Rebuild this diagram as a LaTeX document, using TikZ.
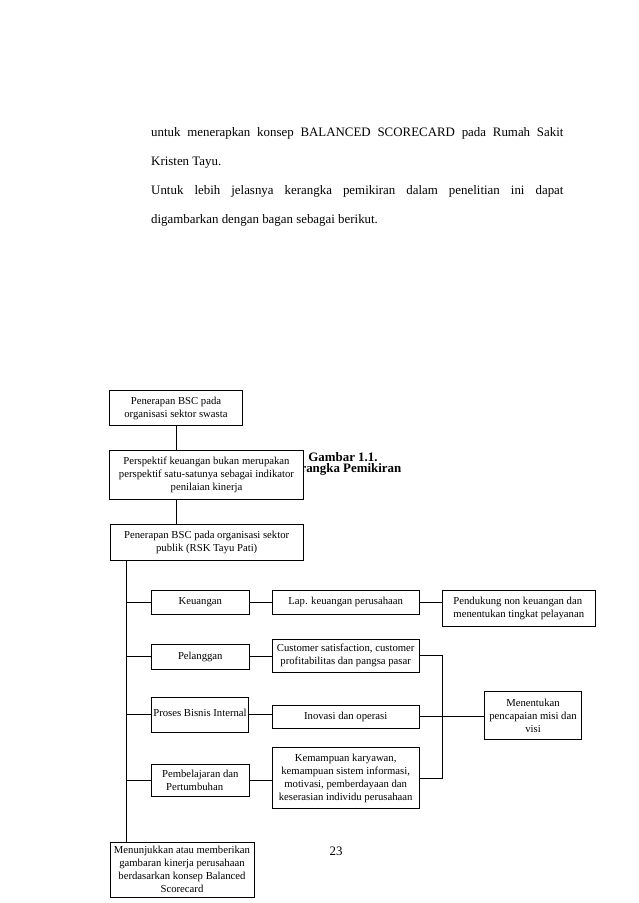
\documentclass[tikz,border=0pt]{standalone}
\usepackage{fontspec}
\setmainfont{Liberation Serif}
\usetikzlibrary{calc}
\newcommand{\bodyfont}{\fontsize{12.9}{15}\selectfont}
\newcommand{\boxfont}{\fontsize{10.7}{13}\selectfont}
\begin{document}
\begin{tikzpicture}[x=1pt,y=-1pt,
  bx/.style={draw, line width=0.8pt, fill=white, inner sep=0pt, align=center, font=\boxfont},
  ln/.style={line width=0.8pt},
  body/.style={anchor=base west, inner sep=0pt, font=\bodyfont}]
\useasboundingbox[fill=white] (0,0) rectangle (638,903);
% body text
\node[body] (t1) at (151,136) {\makebox[412.3pt][s]{untuk menerapkan konsep BALANCED SCORECARD pada Rumah Sakit}};
\node[body] (t2) at (151,165.3) {Kristen Tayu.};
\node[body] (t3) at (151,194.6) {\makebox[412.3pt][s]{Untuk lebih jelasnya kerangka pemikiran dalam penelitian ini dapat}};
\node[body] (t4) at (151,223.9) {digambarkan dengan bagan sebagai berikut.};
% caption (partly hidden behind box 2)
\node[font=\bodyfont\bfseries, inner sep=0pt] (cap1) at (343,457) {Gambar 1.1.};
\node[font=\bodyfont\bfseries, inner sep=0pt] (cap2) at (343,469.5) {Kerangka Pemikiran};
% boxes
\node[bx, minimum width=133.4pt, minimum height=35pt] (b1) at (176,408.2) {Penerapan BSC pada\\organisasi sektor swasta};
\node[bx, minimum width=194.4pt, minimum height=48.7pt] (b2) at (206.5,474.7) {Perspektif keuangan bukan merupakan\\perspektif satu-satunya sebagai indikator\\penilaian kinerja};
\node[bx, minimum width=193.5pt, minimum height=36pt] (b3) at (206.7,542) {Penerapan BSC pada organisasi sektor\\publik (RSK Tayu Pati)};
\node[bx, minimum width=97.3pt, minimum height=24pt] (k1) at (200.3,602.3) {Keuangan};
\node[bx, minimum width=146.7pt, minimum height=24pt] (k2) at (345.7,602.3) {Lap. keuangan perusahaan};
\node[bx, minimum width=152.3pt, minimum height=36pt, align=left] (k3) at (518.8,608) {Pendukung non keuangan dan\\menentukan tingkat pelayanan};
\node[bx, minimum width=97.3pt, minimum height=24.7pt] (k4) at (200.3,656.7) {Pelanggan};
\node[bx, minimum width=146.7pt, minimum height=32.7pt] (k5) at (345.7,655.7) {Customer satisfaction, customer\\profitabilitas dan pangsa pasar};
\node[bx, minimum width=97pt, minimum height=35pt] (k6) at (200,714.8) {\raisebox{3.5pt}{Proses Bisnis Internal}};
\node[bx, minimum width=146.7pt, minimum height=23.7pt] (k7) at (345.7,716.8) {Inovasi dan operasi};
\node[bx, minimum width=97.3pt, minimum height=32pt, align=left] (k8) at (200.3,780.3) {Pembelajaran dan\\\hspace{4pt}Pertumbuhan};
\node[bx, minimum width=146.7pt, minimum height=60.6pt] (k9) at (345.7,778) {Kemampuan karyawan,\\kemampuan sistem informasi,\\motivasi, pemberdayaan dan\\keserasian individu perusahaan};
\node[bx, minimum width=97.4pt, minimum height=47.6pt] (k10) at (533,715.5) {Menentukan\\pencapaian misi dan\\visi};
\node[bx, minimum width=144pt, minimum height=54.3pt] (bb) at (182,869.8) {Menunjukkan atau memberikan\\gambaran kinerja perusahaan\\berdasarkan konsep Balanced\\Scorecard};
% page number
\node[font=\bodyfont, inner sep=0pt] (pg) at (336,851.7) {23};
% connectors
\coordinate (c1) at ($(b1.south west)+(67.4,0)$);
\draw[ln] (c1) -- (c1 |- b2.north);
\draw[ln] (c1 |- b2.south) -- (c1 |- b3.north);
\coordinate (tr) at ($(b3.south west)+(17.3,0)$);
\draw[ln] (tr) -- (tr |- bb.north);
\draw[ln] (tr |- k1.west) -- (k1.west);
\draw[ln] (tr |- k4.west) -- (k4.west);
\draw[ln] (tr |- k6.west) -- (k6.west);
\draw[ln] (tr |- k8.west) -- (k8.west);
\draw[ln] (k1.east) -- (k1.east -| k2.west);
\draw[ln] (k4.east) -- (k4.east -| k5.west);
\draw[ln] (k6.east) -- (k6.east -| k7.west);
\draw[ln] (k8.east) -- (k8.east -| k9.west);
\draw[ln] (k2.east) -- (k2.east -| k3.west);
\draw[ln] (k5.east) -- (k5.east -| k3.west) -- (k3.west |- k9.east) -- (k9.east);
\draw[ln] (k7.east) -- (k7.east -| k10.west);
\end{tikzpicture}
\end{document}
